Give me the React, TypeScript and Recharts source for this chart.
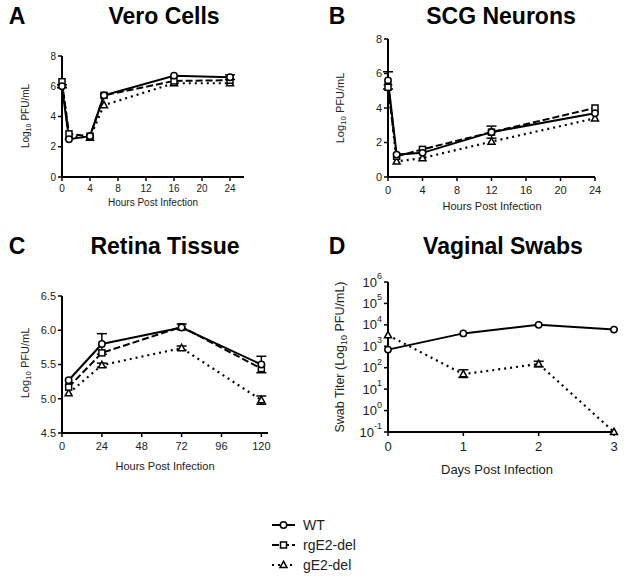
import { LineChart, Line, XAxis, YAxis, ErrorBar } from 'recharts';

const FONT = '"Liberation Sans", Arial, Helvetica, sans-serif';

// A - Vero cells
const veroHours = [0, 1, 4, 6, 16, 24];
const veroWT = [6.0, 2.5, 2.7, 5.4, 6.7, 6.6];
const veroRg = [6.3, 2.85, 2.7, 5.4, 6.35, 6.4];
const veroGe = [6.2, 2.7, 2.6, 4.75, 6.2, 6.2];
const veroWTErr = [0.1, 0, 0, 0, 0, 0.15];

// B - SCG neurons
const scgHours = [0, 1, 4, 12, 24];
const scgWT = [5.6, 1.3, 1.4, 2.6, 3.7];
const scgRg = [5.2, 1.2, 1.6, 2.6, 4.0];
const scgGe = [5.5, 0.9, 1.1, 2.05, 3.4];
const scgWTErr = [0.5, 0, 0, 0.35, 0];

// C - retina tissue
const retinaHours = [4, 24, 72, 120];
const retinaWT = [5.27, 5.8, 6.04, 5.5];
const retinaRg = [5.17, 5.67, 6.05, 5.44];
const retinaGe = [5.08, 5.49, 5.74, 4.98];
const retinaWTErr = [0, 0.15, 0, 0.12];
const retinaRgErr = [0, 0, 0.04, 0];
const retinaGeErr = [0, 0.03, 0.03, 0.06];

// D - vaginal swabs
const swabDays = [0, 1, 2, 3];
const swabWT = [700, 4000, 10000, 6000];
const swabGe = [3300, 50, 150, 0.1];
const swabGeErr = [undefined, [15, 30], [40, 50], undefined];

const linearTicks8 = [0, 2, 4, 6, 8];
const retinaYTicks = [4.5, 5.0, 5.5, 6.0, 6.5];
const swabYTicks = [0.1, 1, 10, 100, 1000, 10000, 100000, 1000000];

const legendNames = ['WT', 'rgE2-del', 'gE2-del'];

const circleDot = (p: any) =>
  p.cx == null ? null : (
    <circle key={`c${p.index}`} cx={p.cx} cy={p.cy} r={3.2} fill="#fff" stroke="#000" strokeWidth={1.5} />
  );
const squareDot = (p: any) =>
  p.cx == null ? null : (
    <rect key={`s${p.index}`} x={p.cx - 3} y={p.cy - 3} width={6} height={6} fill="#fff" stroke="#000" strokeWidth={1.5} />
  );
const triDot = (p: any) =>
  p.cx == null ? null : (
    <path
      key={`t${p.index}`}
      d={`M${p.cx},${p.cy - 3.8}L${p.cx + 3.5},${p.cy + 2.6}L${p.cx - 3.5},${p.cy + 2.6}Z`}
      fill="#fff"
      stroke="#000"
      strokeWidth={1.5}
    />
  );

const YTitle = ({ lx, ly, size, pre, sub, post }: any) => (
  <text
    x={lx}
    y={ly}
    transform={`rotate(-90 ${lx} ${ly})`}
    textAnchor="middle"
    dominantBaseline="central"
    fontSize={size}
    fontFamily={FONT}
    fill="#222"
  >
    {pre}
    <tspan fontSize={size * 0.72} dy={size * 0.3}>{sub}</tspan>
    <tspan dy={-size * 0.3}>{post}</tspan>
  </text>
);

const XTitle = ({ lx, ly, size, text }: any) => (
  <text x={lx} y={ly} textAnchor="middle" dominantBaseline="central" fontSize={size} fontFamily={FONT} fill="#222">
    {text}
  </text>
);

const PowTick = ({ x, y, payload }: any) => {
  const e = Math.round(Math.log10(payload.value));
  return (
    <text x={x} y={y} textAnchor="end" dominantBaseline="central" fontSize={13} fontFamily={FONT} fill="#222">
      10<tspan dy={-6} fontSize={9}>{e}</tspan>
    </text>
  );
};

const axisLine = { stroke: '#000', strokeWidth: 2 };
const tickLine = { stroke: '#000', strokeWidth: 1.5 };

function Panel(props: any) {
  const { box, plot, data, xDomain, xTicks, yDomain, yTicks, yScale, yFmt, yTick, font, xMargin, yTitle, xTitle, hasRg, errs } = props;
  const yw = 40;
  const xh = 30;
  const margin = {
    top: plot.t - box.y,
    right: box.x + box.w - plot.r,
    left: plot.l - box.x - yw,
    bottom: box.y + box.h - plot.b - xh,
  };
  const tickStyle = { fill: '#222', fontSize: font, fontFamily: FONT };
  return (
    <div style={{ position: 'absolute', left: box.x, top: box.y }}>
      <LineChart width={box.w} height={box.h} data={data} margin={margin}>
        <XAxis
          dataKey="x"
          type="number"
          domain={xDomain}
          ticks={xTicks}
          interval={0}
          axisLine={axisLine}
          tickLine={tickLine}
          tickSize={4}
          tickMargin={xMargin}
          tick={tickStyle}
          height={xh}
          label={<XTitle {...xTitle} />}
        />
        <YAxis
          type="number"
          scale={yScale || 'auto'}
          domain={yDomain}
          ticks={yTicks}
          interval={0}
          axisLine={axisLine}
          tickLine={tickLine}
          tickSize={4}
          tickMargin={2}
          tick={yTick || tickStyle}
          tickFormatter={yFmt}
          width={yw}
          label={<YTitle {...yTitle} />}
        />
        <Line dataKey="ge" stroke="#000" strokeWidth={2.2} strokeDasharray="2 4" dot={triDot} isAnimationActive={false}>
          {errs?.ge && <ErrorBar dataKey="geErr" width={5} stroke="#000" strokeWidth={1.5} direction="y" />}
        </Line>
        {hasRg && (
          <Line dataKey="rg" stroke="#000" strokeWidth={2} strokeDasharray="7 3" dot={squareDot} isAnimationActive={false}>
            {errs?.rg && <ErrorBar dataKey="rgErr" width={5} stroke="#000" strokeWidth={1.5} direction="y" />}
          </Line>
        )}
        <Line dataKey="wt" stroke="#000" strokeWidth={2} dot={circleDot} isAnimationActive={false}>
          {errs?.wt && <ErrorBar dataKey="wtErr" width={5} stroke="#000" strokeWidth={1.5} direction="y" />}
        </Line>
      </LineChart>
    </div>
  );
}

const veroData = veroHours.map((x, i) => ({ x, wt: veroWT[i], rg: veroRg[i], ge: veroGe[i], wtErr: veroWTErr[i] }));
const scgData = scgHours.map((x, i) => ({ x, wt: scgWT[i], rg: scgRg[i], ge: scgGe[i], wtErr: scgWTErr[i] }));
const retinaData = retinaHours.map((x, i) => ({
  x,
  wt: retinaWT[i],
  rg: retinaRg[i],
  ge: retinaGe[i],
  wtErr: retinaWTErr[i],
  rgErr: retinaRgErr[i],
  geErr: retinaGeErr[i],
}));
const swabData = swabDays.map((x, i) => ({ x, wt: swabWT[i], ge: swabGe[i], geErr: swabGeErr[i] }));

const Title = ({ x, y, text, size }: any) => (
  <div
    style={{
      position: 'absolute',
      left: x,
      top: y,
      transform: 'translate(-50%, -50%)',
      fontFamily: FONT,
      fontWeight: 'bold',
      fontSize: size,
      whiteSpace: 'nowrap',
      color: '#000',
      lineHeight: 1,
    }}
  >
    {text}
  </div>
);

const legendDots = [circleDot, squareDot, triDot];
const legendDash = [undefined, '7 3', '2 4'];

export default function App() {
  return (
    <div style={{ position: 'absolute', left: 0, top: 0, width: 624, height: 582, background: '#fff', overflow: 'hidden' }}>
      <Title x={17} y={16} text="A" size={23} />
      <Title x={164} y={16} text="Vero Cells" size={23} />
      <Title x={337} y={16} text="B" size={23} />
      <Title x={501} y={16} text="SCG Neurons" size={23} />
      <Title x={17} y={246} text="C" size={23} />
      <Title x={165} y={246} text="Retina Tissue" size={23} />
      <Title x={337} y={246} text="D" size={23} />
      <Title x={503} y={246} text="Vaginal Swabs" size={23} />

      <Panel
        box={{ x: 0, y: 0, w: 312, h: 220 }}
        plot={{ l: 62, t: 56, r: 244, b: 177 }}
        data={veroData}
        xDomain={[0, 26]}
        xTicks={[0, 4, 8, 12, 16, 20, 24]}
        yDomain={[0, 8]}
        yTicks={linearTicks8}
        font={10}
        xMargin={4}
        hasRg
        errs={{ wt: true }}
        yTitle={{ lx: 25, ly: 116, size: 10, pre: 'Log', sub: '10', post: ' PFU/mL' }}
        xTitle={{ lx: 153, ly: 202, size: 10, text: 'Hours Post Infection' }}
      />
      <Panel
        box={{ x: 312, y: 0, w: 312, h: 220 }}
        plot={{ l: 388, t: 39, r: 595, b: 177 }}
        data={scgData}
        xDomain={[0, 24]}
        xTicks={[0, 4, 8, 12, 16, 20, 24]}
        yDomain={[0, 8]}
        yTicks={linearTicks8}
        font={11}
        xMargin={5}
        hasRg
        errs={{ wt: true }}
        yTitle={{ lx: 28, ly: 108, size: 11, pre: 'Log', sub: '10', post: ' PFU/mL' }}
        xTitle={{ lx: 180, ly: 206, size: 11, text: 'Hours Post Infection' }}
      />
      <Panel
        box={{ x: 0, y: 220, w: 312, h: 260 }}
        plot={{ l: 62, t: 296, r: 268, b: 433 }}
        data={retinaData}
        xDomain={[0, 124]}
        xTicks={[0, 24, 48, 72, 96, 120]}
        yDomain={[4.5, 6.5]}
        yTicks={retinaYTicks}
        yFmt={(v: number) => v.toFixed(1)}
        font={11}
        xMargin={5}
        hasRg
        errs={{ wt: true, rg: true, ge: true }}
        yTitle={{ lx: 25, ly: 143, size: 11, pre: 'Log', sub: '10', post: ' PFU/mL' }}
        xTitle={{ lx: 165, ly: 246, size: 11, text: 'Hours Post Infection' }}
      />
      <Panel
        box={{ x: 312, y: 220, w: 312, h: 260 }}
        plot={{ l: 388, t: 282, r: 614, b: 432 }}
        data={swabData}
        xDomain={[0, 3]}
        xTicks={[0, 1, 2, 3]}
        yDomain={[0.1, 1000000]}
        yTicks={swabYTicks}
        yScale="log"
        yTick={<PowTick />}
        font={13}
        xMargin={6}
        errs={{ ge: true }}
        yTitle={{ lx: 28, ly: 137, size: 12.5, pre: 'Swab Titer (Log', sub: '10', post: ' PFU/mL)' }}
        xTitle={{ lx: 185, ly: 249, size: 13, text: 'Days Post Infection' }}
      />

      <div style={{ position: 'absolute', left: 270, top: 515 }}>
        {legendNames.map((name, i) => (
          <div key={name} style={{ display: 'flex', alignItems: 'center', height: 20 }}>
            <svg width={30} height={14}>
              <line x1={2} y1={7} x2={25} y2={7} stroke="#000" strokeWidth={2} strokeDasharray={legendDash[i]} />
              {legendDots[i]({ cx: 13.5, cy: 7, index: i })}
            </svg>
            <span style={{ fontFamily: FONT, fontSize: 14, color: '#222', marginLeft: 3 }}>{name}</span>
          </div>
        ))}
      </div>
    </div>
  );
}
